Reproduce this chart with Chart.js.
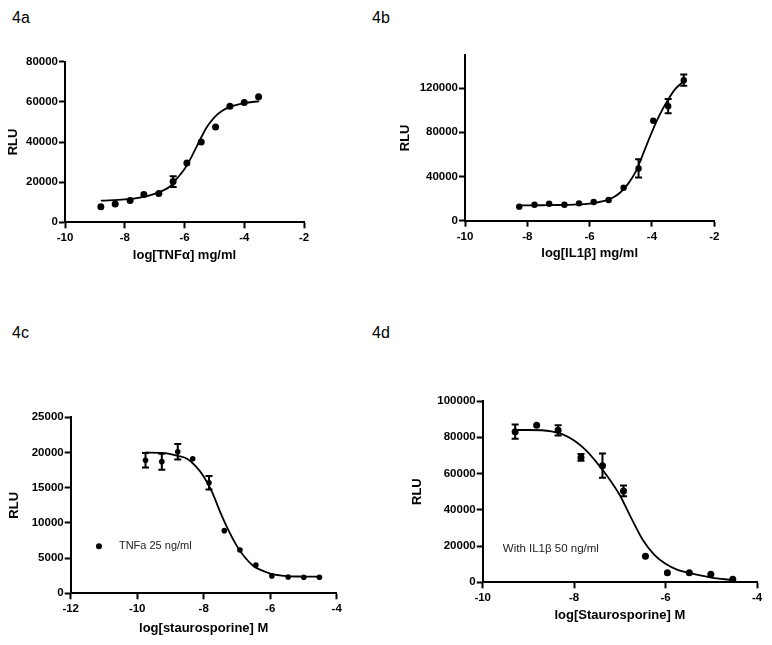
<!DOCTYPE html>
<html>
<head>
<meta charset="utf-8">
<script src="https://cdn.jsdelivr.net/npm/chart.js@4.4.0/dist/chart.umd.min.js"></script>
<style>
  body { margin: 0; background: #fff; width: 772px; height: 645px; position: relative; overflow: hidden;
         font-family: "Liberation Sans", Arial, sans-serif; }
  .panel { position: absolute; }
  .lbl { position: absolute; font-size: 16px; line-height: 16px; color: #000; }
</style>
</head>
<body>
<div class="lbl" style="left:12px;top:10px">4a</div>
<div class="lbl" style="left:372px;top:10px">4b</div>
<div class="lbl" style="left:12px;top:325px">4c</div>
<div class="lbl" style="left:372px;top:325px">4d</div>

<div class="panel" style="left:0px;top:40px;width:330px;height:226px"><canvas id="c4a"></canvas></div>
<div class="panel" style="left:392px;top:40px;width:380px;height:224px"><canvas id="c4b"></canvas></div>
<div class="panel" style="left:1px;top:380px;width:360px;height:259px"><canvas id="c4c"></canvas></div>
<div class="panel" style="left:404px;top:380px;width:368px;height:246px"><canvas id="c4d"></canvas></div>

<script>
// 4a - TNFa dose response
const aX = [-8.8, -8.32, -7.82, -7.36, -6.86, -6.38, -5.92, -5.44, -4.96, -4.48, -4.0, -3.52];
const aY = [7800, 9100, 10900, 13800, 14400, 20300, 29500, 40000, 47500, 57800, 59700, 62600];
const aErr = [0, 0, 0, 0, 0, 2700, 0, 0, 0, 0, 0, 0];
const aFitX = [-8.8, -8.0, -7.5, -7.0, -6.5, -6.25, -6.0, -5.75, -5.5, -5.25, -5.0, -4.75, -4.5, -4.0, -3.5];
const aFitY = [10800, 11400, 12300, 14200, 17700, 21900, 26500, 33000, 40500, 47500, 52300, 55400, 57400, 59400, 60300];
const aYTicks = [0, 20000, 40000, 60000, 80000];

// 4b - IL1b dose response
const bX = [-8.26, -7.77, -7.3, -6.81, -6.34, -5.87, -5.39, -4.91, -4.43, -3.96, -3.48, -2.98];
const bY = [12700, 14500, 15400, 14500, 15700, 16900, 18700, 29900, 47300, 90500, 103700, 127200];
const bErr = [0, 0, 0, 0, 0, 0, 0, 0, 8300, 0, 6500, 5100];
const bFitX = [-8.25, -7.5, -7.0, -6.5, -6.0, -5.5, -5.25, -5.0, -4.75, -4.5, -4.25, -4.0, -3.75, -3.5, -3.25, -3.0];
const bFitY = [13800, 14000, 14200, 14600, 15500, 18200, 21000, 26000, 34000, 45500, 63000, 80500, 96000, 108800, 119300, 125800];
const bYTicks = [0, 40000, 80000, 120000];

// 4c - staurosporine + TNFa
const cX = [-9.75, -9.26, -8.78, -8.33, -7.84, -7.38, -6.91, -6.43, -5.95, -5.46, -4.99, -4.52];
const cY = [18900, 18700, 20100, 19100, 15700, 8900, 6150, 4020, 2460, 2320, 2270, 2270];
const cErr = [1040, 1140, 1090, 0, 950, 0, 0, 0, 0, 0, 0, 0];
const cFitX = [-9.75, -9.25, -8.75, -8.5, -8.25, -8.0, -7.75, -7.5, -7.25, -7.0, -6.75, -6.5, -6.25, -6.0, -5.5, -5.0, -4.5];
const cFitY = [20000, 19950, 19500, 19100, 18100, 16600, 14400, 11500, 8900, 6700, 5050, 3850, 3250, 2800, 2450, 2380, 2350];
const cYTicks = [0, 5000, 10000, 15000, 20000, 25000];

// 4d - staurosporine + IL1b
const dX = [-9.29, -8.82, -8.35, -7.85, -7.38, -6.92, -6.44, -5.96, -5.48, -5.01, -4.53];
const dY = [83100, 86600, 83800, 68900, 64300, 50400, 14300, 5300, 5300, 4400, 1700];
const dErr = [3900, 0, 2800, 1900, 6700, 3000, 0, 0, 0, 0, 0];
const dFitX = [-9.3, -9.0, -8.5, -8.25, -8.0, -7.75, -7.5, -7.25, -7.0, -6.75, -6.5, -6.25, -6.0, -5.75, -5.5, -5.0, -4.55];
const dFitY = [84000, 84000, 83300, 81600, 78200, 73000, 65900, 57700, 48000, 35400, 23500, 15300, 10200, 7000, 5300, 2600, 1300];
const dYTicks = [0, 20000, 40000, 60000, 80000, 100000];

const FONT = '"Liberation Sans", Arial, sans-serif';
const pts = (xs, ys) => xs.map((v, i) => ({x: v, y: ys[i]}));

// error bars with caps, drawn under the dots
const errorBars = {
  id: 'errorBars',
  beforeDatasetsDraw(chart) {
    const {ctx, scales: {x, y}} = chart;
    chart.data.datasets.forEach(ds => {
      if (!ds.errors) return;
      ctx.save();
      ctx.strokeStyle = '#000';
      ctx.lineWidth = 2;
      ds.data.forEach((p, i) => {
        const e = ds.errors[i];
        if (!e) return;
        const px = x.getPixelForValue(p.x);
        const t = y.getPixelForValue(p.y + e);
        const b = y.getPixelForValue(p.y - e);
        ctx.beginPath();
        ctx.moveTo(px, t); ctx.lineTo(px, b);
        ctx.moveTo(px - 3.5, t); ctx.lineTo(px + 3.5, t);
        ctx.moveTo(px - 3.5, b); ctx.lineTo(px + 3.5, b);
        ctx.stroke();
      });
      ctx.restore();
    });
  }
};

// small in-plot label (legend text)
const note = {
  id: 'note',
  afterDraw(chart, args, opts) {
    if (!opts.text) return;
    const {ctx, scales: {x, y}} = chart;
    const py = y.getPixelForValue(opts.y);
    ctx.save();
    if (opts.dotX !== undefined) {
      ctx.fillStyle = '#000';
      ctx.beginPath();
      ctx.arc(x.getPixelForValue(opts.dotX), py, 3, 0, Math.PI * 2);
      ctx.fill();
    }
    ctx.font = opts.size + 'px ' + FONT;
    ctx.fillStyle = '#222';
    ctx.textBaseline = 'middle';
    ctx.fillText(opts.text, x.getPixelForValue(opts.x), py);
    ctx.restore();
  }
};

function panel(id, c) {
  const axisCommon = {
    type: 'linear',
    border: {display: true, color: '#000', width: 2},
    grid: {drawOnChartArea: false, drawTicks: true, tickLength: 6, tickColor: '#000', tickWidth: 2, color: '#000'},
  };
  new Chart(document.getElementById(id), {
    type: 'scatter',
    data: {
      datasets: [{
        data: pts(c.fitX, c.fitY),
        showLine: true,
        borderColor: '#000',
        borderWidth: 1.8,
        pointRadius: 0,
        cubicInterpolationMode: 'monotone'
      }, {
        data: pts(c.x, c.y),
        errors: c.err,
        backgroundColor: '#000',
        pointRadius: c.r,
        pointBorderWidth: 0
      }]
    },
    options: {
      responsive: true,
      maintainAspectRatio: false,
      animation: false,
      layout: {padding: {top: c.padTop, right: c.padRight, left: 0, bottom: 0}},
      plugins: {legend: {display: false}, tooltip: {enabled: false}, note: c.note || {}},
      scales: {
        x: Object.assign({}, axisCommon, {
          min: c.xMin, max: c.xMax,
          ticks: {stepSize: 2, color: '#000', padding: 3, font: {family: FONT, size: 11.5, weight: 'bold'},
                  callback: v => String(v)},
          title: {display: true, text: c.xTitle, color: '#000', padding: {top: 0, bottom: c.titlePad},
                  font: {family: FONT, size: 13, weight: 'bold'}},
          afterFit: s => { s.height = c.xH; }
        }),
        y: Object.assign({}, axisCommon, {
          min: 0, max: c.yMax,
          ticks: {color: '#000', padding: 1,
                  font: {family: FONT, size: 11.5, weight: 'bold'}, callback: v => String(v)},
          afterBuildTicks: s => { s.ticks = c.yTicks.map(v => ({value: v})); },
          title: {display: true, text: 'RLU', color: '#000', padding: {top: 6, bottom: 0},
                  font: {family: FONT, size: 13, weight: 'bold'}},
          afterFit: s => { s.width = c.yW; }
        })
      }
    },
    plugins: [errorBars, note]
  });
}

panel('c4a', {x: aX, y: aY, err: aErr, fitX: aFitX, fitY: aFitY, r: 3.5, yTicks: aYTicks,
  xMin: -10, xMax: -2, yMax: 80000, xTitle: 'log[TNFα] mg/ml',
  padTop: 21.7, padRight: 26, yW: 65, xH: 43.7, titlePad: 3.2});

panel('c4b', {x: bX, y: bY, err: bErr, fitX: bFitX, fitY: bFitY, r: 3.2, yTicks: bYTicks,
  xMin: -10, xMax: -2, yMax: 150000, xTitle: 'log[IL1β] mg/ml',
  padTop: 15, padRight: 57.7, yW: 73, xH: 43.3, titlePad: 2.7});

panel('c4c', {x: cX, y: cY, err: cErr, fitX: cFitX, fitY: cFitY, r: 2.8, yTicks: cYTicks,
  xMin: -12, xMax: -4, yMax: 25000, xTitle: 'log[staurosporine] M',
  padTop: 37.3, padRight: 24.3, yW: 69.7, xH: 45.7, titlePad: 3.2,
  note: {text: 'TNFa 25 ng/ml', x: -10.55, y: 6700, dotX: -11.15, size: 11}});

panel('c4d', {x: dX, y: dY, err: dErr, fitX: dFitX, fitY: dFitY, r: 3.5, yTicks: dYTicks,
  xMin: -10, xMax: -4, yMax: 100000, xTitle: 'log[Staurosporine] M',
  padTop: 21, padRight: 15, yW: 78.7, xH: 43.7, titlePad: 3.2,
  note: {text: 'With IL1β 50 ng/ml', x: -9.56, y: 18400, size: 11.5}});
</script>
</body>
</html>
